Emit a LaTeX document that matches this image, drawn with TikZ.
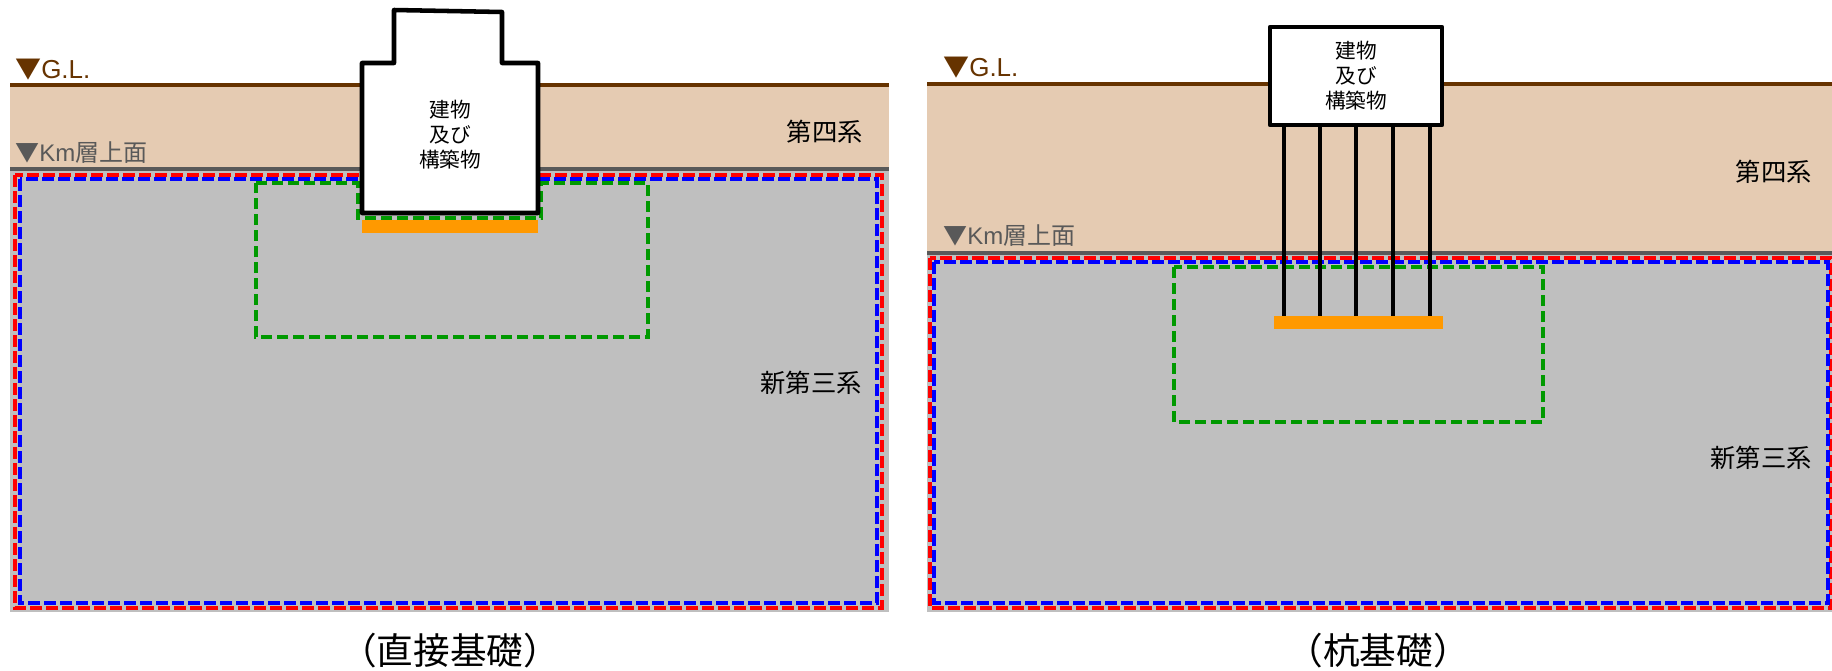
\documentclass[tikz,border=0pt]{standalone}
\usepackage{fontspec}
\setmainfont{Liberation Sans}
\newfontfamily\jpfont{Noto Sans CJK JP}
\usetikzlibrary{positioning}
\definecolor{glbrown}{HTML}{663300}
\definecolor{kmgray}{HTML}{595959}
\definecolor{soiltan}{HTML}{E5CBB2}
\definecolor{rockgray}{HTML}{BFBFBF}
\definecolor{footorange}{HTML}{FF9900}
\definecolor{zonegreen}{HTML}{009900}

\begin{document}
\begin{tikzpicture}[x=0.75pt,y=-0.75pt]
    \tikzstyle{gline}=[glbrown, line width=3pt]
    \tikzstyle{kmline}=[kmgray, line width=3pt]
    \tikzstyle{redzone}=[red, line width=3pt, dash pattern=on 9pt off 3pt]
    \tikzstyle{bluezone}=[blue, line width=3pt, dash pattern=on 9pt off 3pt]
    \tikzstyle{greenzone}=[zonegreen, line width=2.6pt, dash pattern=on 8pt off 4pt]
    \tikzstyle{bldg}=[draw=black, fill=white, line width=3.4pt, line join=round]
    \tikzstyle{pile}=[black, line width=3.4pt]
    \tikzstyle{leveltext}=[inner sep=0pt, anchor=west, font=\fontsize{18}{22}\selectfont]
    \tikzstyle{layertext}=[inner sep=0pt, anchor=east, font=\jpfont\fontsize{19}{23}\selectfont]
    \tikzstyle{bldgtext}=[inner sep=0pt, align=center, font=\jpfont\fontsize{15.5}{18.75}\selectfont]
    \tikzstyle{caption}=[inner sep=0pt, font=\jpfont\fontsize{27.5}{32}\selectfont]

    \useasboundingbox (0,0) rectangle (1832,671);

    % (直接基礎)
    \fill[rockgray] (10,169) rectangle (889,612);
    \fill[soiltan] (10,85) rectangle (889,169);
    \draw[gline] (10,85) -- (889,85);
    \draw[kmline] (10,169) -- (889,169);
    \draw[redzone] (15,175) rectangle (882,608);
    \draw[bluezone] (20,179) rectangle (877,603);
    \draw[greenzone] (256,183) -- (358,183) -- (358,218) -- (541,218) -- (541,183)
      -- (648,183) -- (648,337) -- (256,337) -- cycle;
    \fill[footorange] (362,220) rectangle (538,233);
    \draw[bldg] (362,213) -- (362,63) -- (394,63) -- (394,10) -- (502,12) -- (502,63)
      -- (538,63) -- (538,213) -- cycle;
    \node[bldgtext] (bldgtext1) at (450,135) {建物\\及び\\構築物};
    \node[leveltext, glbrown, font=\fontsize{19.5}{22}\selectfont] (gl1) at (15,70) {{\jpfont ▼}G.L.};
    \node[leveltext, kmgray] (km1) at (15,153) {{\jpfont ▼}Km{\jpfont 層上面}};
    \node[layertext] (quat1) at (863,132) {第四系};
    \node[layertext] (neo1) at (862,383) {新第三系};
    \node[caption] (cap1) at (450,651) {（直接基礎）};

    % (杭基礎)
    \fill[rockgray] (927,253) rectangle (1832,612);
    \fill[soiltan] (927,84) rectangle (1832,253);
    \draw[gline] (927,84) -- (1832,84);
    \draw[kmline] (927,253) -- (1832,253);
    \draw[redzone] (930,258) rectangle (1831,608);
    \draw[bluezone] (934,262) rectangle (1828,603);
    \draw[greenzone] (1174,267) rectangle (1543,422);
    \fill[footorange] (1274,316) rectangle (1443,329);
    \draw[pile] (1284,125) -- (1284,316);
    \draw[pile] (1320,125) -- (1320,316);
    \draw[pile] (1356,125) -- (1356,316);
    \draw[pile] (1393,125) -- (1393,316);
    \draw[pile] (1430,125) -- (1430,316);
    \node[bldg, minimum width=172*0.75pt, minimum height=98*0.75pt] (bldg2) at (1356,76) {};
    \node[bldgtext] (bldgtext2) at (bldg2.center) {建物\\及び\\構築物};
    \node[leveltext, glbrown, font=\fontsize{19.5}{22}\selectfont] (gl2) at (943,68) {{\jpfont ▼}G.L.};
    \node[leveltext, kmgray] (km2) at (943,236) {{\jpfont ▼}Km{\jpfont 層上面}};
    \node[layertext] (quat2) at (1812,172) {第四系};
    \node[layertext] (neo2) at (1812,458) {新第三系};
    \node[caption] (cap2) at (1378,651) {（杭基礎）};
\end{tikzpicture}
\end{document}
